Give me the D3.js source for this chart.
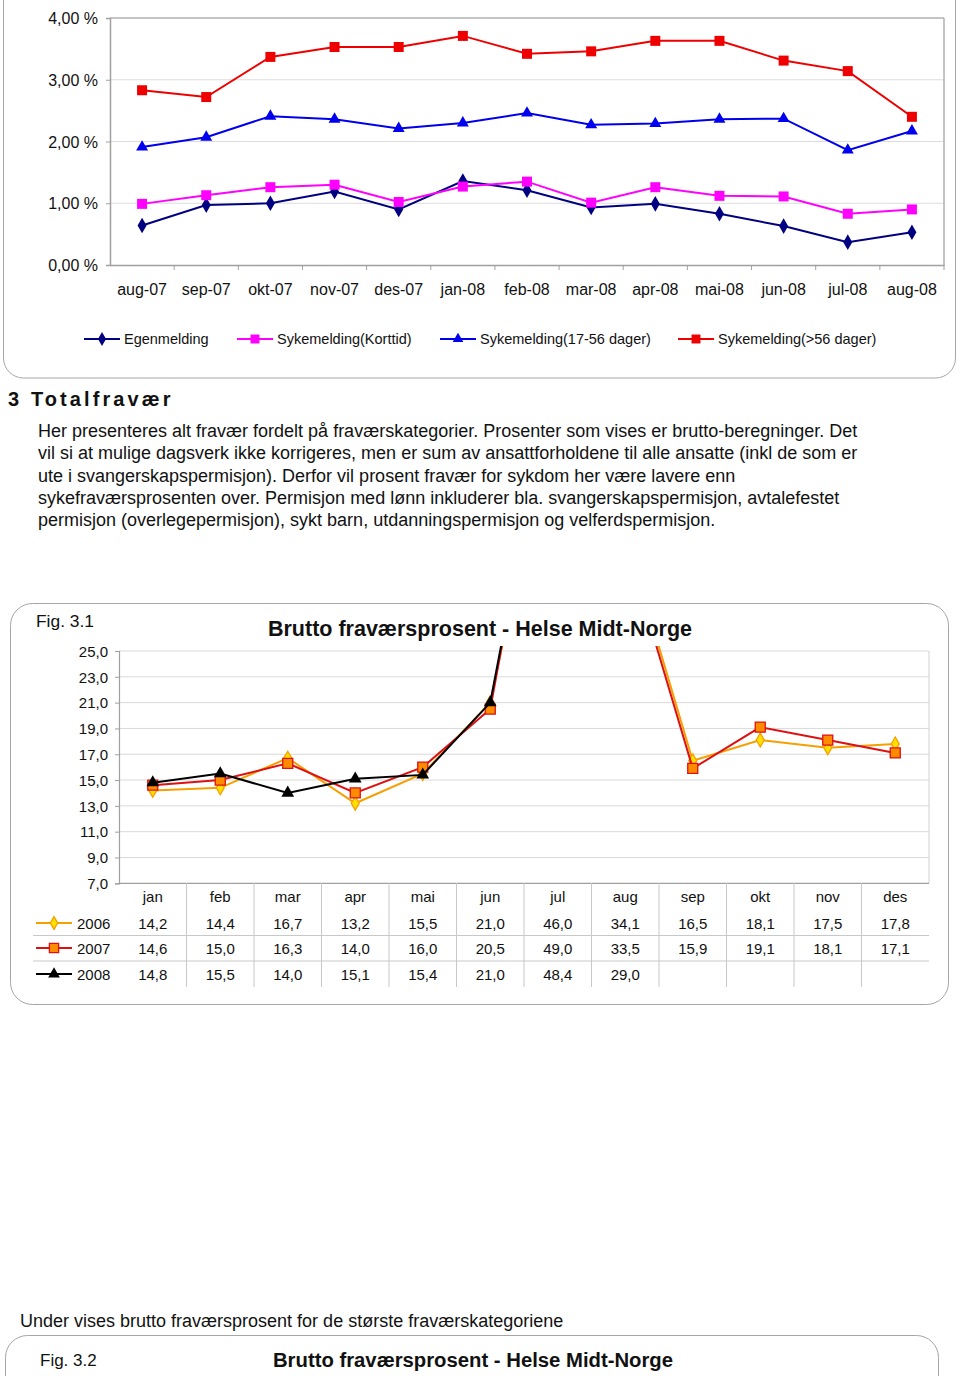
<!DOCTYPE html>
<html><head><meta charset="utf-8">
<script src="https://cdn.jsdelivr.net/npm/d3@7"></script>
<style>
html,body{margin:0;padding:0;background:#fff;}
svg{display:block;font-family:"Liberation Sans",Arial,Helvetica,sans-serif;}
</style></head>
<body><svg id="c" width="960" height="1376"></svg>
<script>
// ---------- Data: chart 1 ----------
const months1 = ["aug-07","sep-07","okt-07","nov-07","des-07","jan-08","feb-08","mar-08","apr-08","mai-08","jun-08","jul-08","aug-08"];
const egenmelding = [0.64,0.97,1.00,1.19,0.90,1.36,1.21,0.93,0.99,0.83,0.63,0.37,0.53];
const korttid     = [0.99,1.13,1.26,1.30,1.02,1.27,1.35,1.01,1.26,1.12,1.11,0.83,0.90];
const dager17_56  = [1.91,2.07,2.41,2.36,2.21,2.30,2.46,2.27,2.29,2.36,2.37,1.86,2.17];
const dagerOver56 = [2.83,2.72,3.37,3.53,3.53,3.71,3.42,3.46,3.63,3.63,3.31,3.14,2.40];
const seriesNames1 = ["Egenmelding","Sykemelding(Korttid)","Sykemelding(17-56 dager)","Sykemelding(>56 dager)"];
const yTicks1 = [0,1,2,3,4];

// ---------- Data: chart 2 (Fig. 3.1) ----------
const months2 = ["jan","feb","mar","apr","mai","jun","jul","aug","sep","okt","nov","des"];
const y2006 = [14.2,14.4,16.7,13.2,15.5,21.0,46.0,34.1,16.5,18.1,17.5,17.8];
const y2007 = [14.6,15.0,16.3,14.0,16.0,20.5,49.0,33.5,15.9,19.1,18.1,17.1];
const y2008 = [14.8,15.5,14.0,15.1,15.4,21.0,48.4,29.0];
const years = ["2006","2007","2008"];
const yTicks2 = [7,9,11,13,15,17,19,21,23,25];

const heading = "3 Totalfravær";
const paragraph = [
 "Her presenteres alt fravær fordelt på fraværskategorier. Prosenter som vises er brutto-beregninger. Det",
 "vil si at mulige dagsverk ikke korrigeres, men er sum av ansattforholdene til alle ansatte (inkl de som er",
 "ute i svangerskapspermisjon). Derfor vil prosent fravær for sykdom her være lavere enn",
 "sykefraværsprosenten over. Permisjon med lønn inkluderer bla. svangerskapspermisjon, avtalefestet",
 "permisjon (overlegepermisjon), sykt barn, utdanningspermisjon og velferdspermisjon."
];
const underText = "Under vises brutto fraværsprosent for de største fraværskategoriene";
const chartTitle = "Brutto fraværsprosent - Helse Midt-Norge";

const svg = d3.select("#c");
const FONT = '"Liberation Sans",Arial,Helvetica,sans-serif';
const fmt2 = v => d3.format(".2f")(v).replace(".", ",") + " %";
const fmt1 = v => d3.format(".1f")(v).replace(".", ",");

// ================= Chart 1 =================
svg.append("rect").attr("x",3.5).attr("y",-60).attr("width",952).attr("height",438)
  .attr("rx",20).attr("fill","#fff").attr("stroke","#a6a6a6").attr("stroke-width",1);

const x1 = d3.scaleBand().domain(months1).range([110,944]);
const y1 = d3.scaleLinear().domain([0,4]).range([265,18]);

const g1 = svg.append("g");
g1.selectAll(".gl").data(yTicks1.slice(1)).join("line")
  .attr("x1",110).attr("x2",944).attr("y1",d=>y1(d)).attr("y2",d=>y1(d))
  .attr("stroke",d=>d===4?"#b0b0b0":"#dcdcdc").attr("stroke-width",d=>d===4?1.5:1);
g1.append("line").attr("x1",944).attr("x2",944).attr("y1",18).attr("y2",265).attr("stroke","#b0b0b0").attr("stroke-width",1.5);
const ay1 = g1.append("g").attr("transform","translate(110,0)")
  .call(d3.axisLeft(y1).tickValues(yTicks1).tickFormat(fmt2).tickSize(4).tickPadding(8));
ay1.select(".domain").attr("stroke","#a0a0a0").attr("stroke-width",1.5);
ay1.selectAll(".tick line").attr("stroke","#a0a0a0");
ay1.selectAll("text").attr("font-family",FONT).attr("font-size",16).attr("fill","#111").attr("dy","0.35em");
const ax1 = g1.append("g").attr("transform","translate(0,265)")
  .call(d3.axisBottom(x1).tickSize(0).tickPadding(19));
ax1.select(".domain").attr("stroke","#a0a0a0").attr("stroke-width",1.5);
ax1.selectAll("text").attr("font-family",FONT).attr("font-size",16).attr("fill","#111");
g1.selectAll(".xt").data(months1.slice(1).concat(["_end"])).join("line")
  .attr("x1",(d,i)=>110+x1.step()*(i+1)).attr("x2",(d,i)=>110+x1.step()*(i+1))
  .attr("y1",265).attr("y2",270).attr("stroke","#a0a0a0");

const s1 = [
  {name:seriesNames1[0], vals:egenmelding, color:"#000080", sym:d3.symbolDiamond, size:70},
  {name:seriesNames1[1], vals:korttid, color:"#ff00ff", sym:d3.symbolSquare, size:100},
  {name:seriesNames1[2], vals:dager17_56, color:"#0000ee", sym:d3.symbolTriangle, size:62},
  {name:seriesNames1[3], vals:dagerOver56, color:"#ee0000", sym:d3.symbolSquare, size:100}
];
const cx1 = i => x1(months1[i]) + x1.bandwidth()/2;
const line1 = d3.line().x((d,i)=>cx1(i)).y(d=>y1(d));
s1.forEach(s=>{
  g1.append("path").attr("d",line1(s.vals)).attr("fill","none").attr("stroke",s.color).attr("stroke-width",2);
  g1.selectAll(null).data(s.vals).join("path")
    .attr("d",d3.symbol().type(s.sym).size(s.size))
    .attr("transform",(d,i)=>`translate(${cx1(i)},${y1(d)})`)
    .attr("fill",s.color);
});
const legX = [84,237,440,678];
s1.forEach((s,i)=>{
  const lg = svg.append("g").attr("transform",`translate(${legX[i]},339)`);
  lg.append("line").attr("x1",0).attr("x2",36).attr("stroke",s.color).attr("stroke-width",2);
  lg.append("path").attr("d",d3.symbol().type(s.sym).size(s.size*0.8)).attr("transform","translate(18,0)").attr("fill",s.color);
  lg.append("text").attr("x",40).attr("y",5).attr("font-size",14.5).attr("fill","#111").text(s.name);
});

// ================= Heading and paragraph =================
svg.append("text").attr("x",8).attr("y",406).attr("font-size",20).attr("font-weight","bold")
  .attr("letter-spacing",3.1).attr("fill","#111").text(heading);
svg.selectAll(".para").data(paragraph).join("text")
  .attr("x",38).attr("y",(d,i)=>437+i*22.3).attr("font-size",18).attr("fill","#111").text(d=>d);

// ================= Chart 2 (Fig. 3.1) =================
svg.append("rect").attr("x",10.5).attr("y",603.5).attr("width",938).attr("height",401)
  .attr("rx",22).attr("fill","#fff").attr("stroke","#a6a6a6").attr("stroke-width",1);
svg.append("text").attr("x",36).attr("y",627).attr("font-size",17.4).attr("fill","#111").text("Fig. 3.1");
svg.append("text").attr("x",480).attr("y",636).attr("text-anchor","middle").attr("font-size",21.5)
  .attr("font-weight","bold").attr("fill","#111").text(chartTitle);

const x2 = d3.scaleBand().domain(months2).range([119,929]);
const y2 = d3.scaleLinear().domain([7,25]).range([883.3,651]);
const g2 = svg.append("g");
g2.selectAll(".gl").data(yTicks2.slice(1)).join("line")
  .attr("x1",119).attr("x2",929).attr("y1",d=>y2(d)).attr("y2",d=>y2(d))
  .attr("stroke","#dadada").attr("stroke-width",1);
g2.append("line").attr("x1",929).attr("x2",929).attr("y1",651).attr("y2",883).attr("stroke","#d0d0d0");
const ay2 = g2.append("g").attr("transform","translate(119,0)")
  .call(d3.axisLeft(y2).tickValues(yTicks2).tickFormat(fmt1).tickSize(4).tickPadding(7));
ay2.select(".domain").attr("stroke","#a0a0a0").attr("stroke-width",1.2);
ay2.selectAll(".tick line").attr("stroke","#a0a0a0");
ay2.selectAll("text").attr("font-family",FONT).attr("font-size",15).attr("fill","#111").attr("dy","0.35em");
g2.append("line").attr("x1",119).attr("x2",929).attr("y1",883.3).attr("y2",883.3).attr("stroke","#a0a0a0").attr("stroke-width",1.2);

g2.selectAll(".vt").data(months2.slice(1)).join("line")
  .attr("x1",d=>x2(d)).attr("x2",d=>x2(d)).attr("y1",883).attr("y2",987)
  .attr("stroke","#c8c8c8");
[935.5,961].forEach(yy=>g2.append("line").attr("x1",33).attr("x2",929).attr("y1",yy).attr("y2",yy).attr("stroke","#c8c8c8"));
g2.selectAll(".mh").data(months2).join("text")
  .attr("x",d=>x2(d)+x2.bandwidth()/2).attr("y",902).attr("text-anchor","middle")
  .attr("font-size",15).attr("fill","#111").text(d=>d);

const s2 = [
  {name:years[0], vals:y2006, line:"#f5a000", fill:"#ffe000", stroke:"#f5a000", sym:d3.symbolDiamond, size:55},
  {name:years[1], vals:y2007, line:"#dd1111", fill:"#ff8c00", stroke:"#dd1111", sym:d3.symbolSquare, size:100},
  {name:years[2], vals:y2008, line:"#000000", fill:"#000000", stroke:"#000000", sym:d3.symbolTriangle, size:70}
];
svg.append("clipPath").attr("id","clip2").append("rect").attr("x",100).attr("y",646).attr("width",840).attr("height",250);
const cx2 = i => x2(months2[i]) + x2.bandwidth()/2;
const line2 = d3.line().x((d,i)=>cx2(i)).y(d=>y2(d));
const plot2 = g2.append("g").attr("clip-path","url(#clip2)");
const rowY = [929,954,980];
s2.forEach((s,k)=>{
  plot2.append("path").attr("d",line2(s.vals)).attr("fill","none").attr("stroke",s.line).attr("stroke-width",2);
  plot2.selectAll(null).data(s.vals).join("path")
    .attr("d",d3.symbol().type(s.sym).size(s.size))
    .attr("transform",(d,i)=>`translate(${cx2(i)},${y2(d)})`)
    .attr("fill",s.fill).attr("stroke",s.stroke).attr("stroke-width",s.sym===d3.symbolTriangle?0:1.3);
  const lg = g2.append("g").attr("transform",`translate(36,${rowY[k]-6})`);
  lg.append("line").attr("x1",0).attr("x2",36).attr("stroke",s.line).attr("stroke-width",2);
  lg.append("path").attr("d",d3.symbol().type(s.sym).size(s.size*0.85)).attr("transform","translate(18,0)")
    .attr("fill",s.fill).attr("stroke",s.stroke).attr("stroke-width",s.sym===d3.symbolTriangle?0:1.3);
  g2.append("text").attr("x",77).attr("y",rowY[k]).attr("font-size",15).attr("fill","#111").text(s.name);
  g2.selectAll(null).data(s.vals).join("text")
    .attr("x",(d,i)=>cx2(i)).attr("y",rowY[k]).attr("text-anchor","middle")
    .attr("font-size",15).attr("fill","#111").text(d=>fmt1(d));
});

// ================= Bottom text and Fig 3.2 frame =================
svg.append("text").attr("x",20).attr("y",1327).attr("font-size",18).attr("fill","#111").text(underText);
svg.append("rect").attr("x",5.5).attr("y",1335.5).attr("width",933).attr("height",120)
  .attr("rx",22).attr("fill","#fff").attr("stroke","#a6a6a6");
svg.append("text").attr("x",40).attr("y",1366).attr("font-size",17).attr("fill","#111").text("Fig. 3.2");
svg.append("text").attr("x",473).attr("y",1367).attr("text-anchor","middle").attr("font-size",20.3)
  .attr("font-weight","bold").attr("fill","#111").text(chartTitle);
</script></body></html>
